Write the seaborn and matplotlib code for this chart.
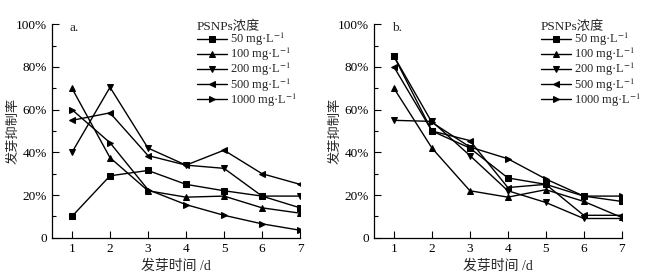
import numpy as np
import pandas as pd
import matplotlib
matplotlib.use("Agg")
import matplotlib.pyplot as plt
from matplotlib.ticker import FuncFormatter, MultipleLocator
import seaborn as sns

days = [1, 2, 3, 4, 5, 6, 7]
concentrations = ["50 mg·L$^{-1}$", "100 mg·L$^{-1}$", "200 mg·L$^{-1}$",
                  "500 mg·L$^{-1}$", "1000 mg·L$^{-1}$"]

# panel a values (%)
a_50 = [10, 29, 31.5, 25, 22, 19.5, 14]
a_100 = [70, 37.5, 22, 19, 19.5, 14, 11.5]
a_200 = [40, 70.5, 42, 34, 32.5, 19.5, 19.5]
a_500 = [55, 58.5, 38.5, 34, 41, 30, 25]
a_1000 = [60, 44.5, 22.5, 15.5, 10.5, 6.5, 3.5]

# panel b values (%)
b_50 = [85, 50, 42, 28, 25, 19.5, 17]
b_100 = [70, 42, 22, 19, 22.5, 17, 9.5]
b_200 = [55, 54.5, 38.5, 22, 16.5, 9, 9]
b_500 = [80, 50, 45.5, 23.5, 25, 10.5, 10.5]
b_1000 = [85, 54, 42.5, 37, 27.5, 19.5, 19.5]

panel_letters = ["a.", "b."]
legend_title = "PSNPs浓度"
xlabel = "发芽时间 /d"
ylabel = "发芽抑制率"

sns.set_style("ticks")
plt.rcParams["font.family"] = ["Liberation Serif", "Noto Sans CJK SC", "DejaVu Sans"]
plt.rcParams["mathtext.fontset"] = "stix"
plt.rcParams["axes.unicode_minus"] = False


def make_df(series):
    rows = []
    for name, vals in zip(concentrations, series):
        for d, v in zip(days, vals):
            rows.append({"day": d, "rate": v, "conc": name})
    return pd.DataFrame(rows)


dfa = make_df([a_50, a_100, a_200, a_500, a_1000])
dfb = make_df([b_50, b_100, b_200, b_500, b_1000])

W, H = 653, 279
fig = plt.figure(figsize=(W / 100, H / 100), dpi=100)
fig.patch.set_facecolor("white")

axes_px = [(52.3, 300.0), (374.3, 621.7)]
bottom_px, top_px = 237.7, 24.3
legend_x = [197, 541]
ylabel_x = [20, 342]
markers = ["s", "^", "v", "<", ">"]

for i, (df, (l, r)) in enumerate(zip([dfa, dfb], axes_px)):
    ax = fig.add_axes([l / W, 1 - bottom_px / H, (r - l) / W, (bottom_px - top_px) / H])
    sns.lineplot(data=df, x="day", y="rate", hue="conc", style="conc",
                 hue_order=concentrations, style_order=concentrations,
                 palette=["black"] * 5, markers=markers, dashes=False,
                 markersize=4.5, linewidth=1.0, markeredgecolor="black",
                 ax=ax)
    span = (r - l)
    unit = (span - 19.7) / 6
    ax.set_xlim(1 - 19.7 / unit, 7)
    ax.set_ylim(0, 100)
    ax.xaxis.set_major_locator(MultipleLocator(1))
    ax.yaxis.set_major_locator(MultipleLocator(20))
    ax.yaxis.set_minor_locator(MultipleLocator(10))
    ax.yaxis.set_major_formatter(FuncFormatter(lambda v, p: "0" if v == 0 else f"{int(v)}%"))
    ax.tick_params(axis="both", which="both", direction="in", labelsize=9.5,
                   color="black", labelcolor="black", width=0.8)
    ax.tick_params(axis="both", which="major", length=5, pad=4)
    ax.tick_params(axis="y", which="minor", length=3)
    for s in ["top", "right"]:
        ax.spines[s].set_visible(False)
    for s in ["left", "bottom"]:
        ax.spines[s].set_color("black")
        ax.spines[s].set_linewidth(0.9)
    ax.set_xlabel(xlabel, fontsize=10, labelpad=3)
    ax.set_ylabel(ylabel, fontsize=9.5)
    ax.yaxis.set_label_coords(-(l - ylabel_x[i]) / span, 0.5)
    ax.text(0.07, 1.012, panel_letters[i], transform=ax.transAxes,
            fontsize=9.5, va="top", ha="left")
    sns.move_legend(ax, "upper left",
                    bbox_to_anchor=(legend_x[i] / W, 1 - 20.5 / H),
                    bbox_transform=fig.transFigure,
                    title=legend_title, frameon=False, fontsize=8.9,
                    title_fontsize=9.5, alignment="left",
                    handlelength=2.4, handletextpad=0.25, labelspacing=-0.17,
                    borderpad=0, borderaxespad=0, markerscale=1.0)

fig.savefig("out.png", dpi=100, facecolor="white")
